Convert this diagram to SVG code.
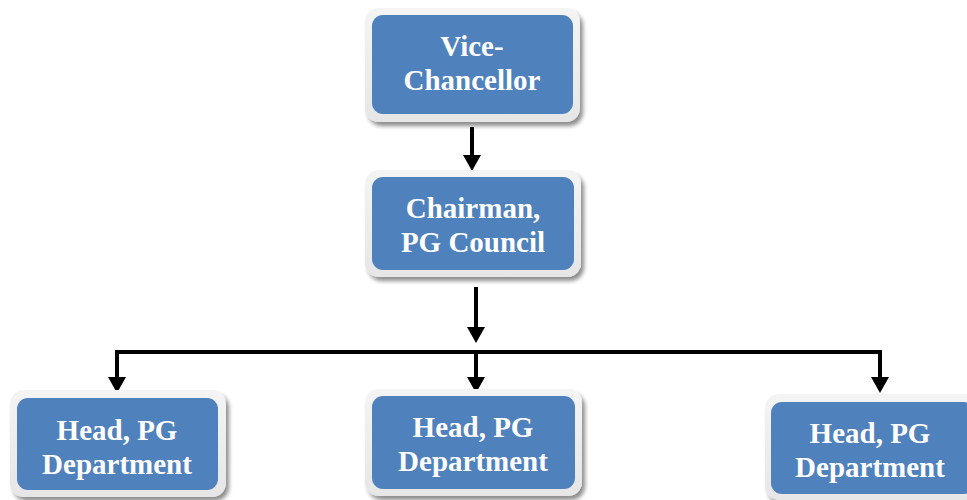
<svg xmlns="http://www.w3.org/2000/svg" width="967" height="500" viewBox="0 0 967 500">
  <defs>
    <linearGradient id="frameFill" x1="0" y1="0" x2="0" y2="1">
      <stop offset="0" stop-color="#f4f4f4"/>
      <stop offset="1" stop-color="#e6e6e6"/>
    </linearGradient>
    <filter id="shadow" x="-10%" y="-10%" width="125%" height="130%">
      <feGaussianBlur in="SourceAlpha" stdDeviation="2"/>
      <feOffset dx="3" dy="4" result="b"/>
      <feComponentTransfer><feFuncA type="linear" slope="0.45"/></feComponentTransfer>
      <feMerge><feMergeNode/><feMergeNode in="SourceGraphic"/></feMerge>
    </filter>
    <marker id="arrow" markerWidth="5" markerHeight="5" refX="2.5" refY="4.2" orient="auto-start-reverse" markerUnits="strokeWidth" viewBox="0 0 5 5">
      <path d="M0,0 L5,0 L2.5,4.2 Z" fill="#000" transform="rotate(-90 2.5 2.5)"/>
    </marker>
    <style>
      .frame { fill: url(#frameFill); filter: url(#shadow); }
      .box { fill: #4f81bd; }
      .label { font-family: "Liberation Serif", "Times New Roman", serif; font-weight: bold; font-size: 29px; fill: #ffffff; text-anchor: middle; }
      .conn { stroke: #000; stroke-width: 4; fill: none; }
      .head { fill: #000; }
    </style>
  </defs>

  <rect width="967" height="500" fill="#ffffff"/>

  <g id="connectors">
    <path class="conn" d="M472,127 V158"/>
    <path class="head" d="M463,155 L481,155 L472,171 Z"/>
    <path class="conn" d="M476,287 V330"/>
    <path class="head" d="M467,327 L485,327 L476,343 Z"/>
    <path class="conn" d="M117,380 V352 H880 V380"/>
    <path class="conn" d="M476,352 V380"/>
    <path class="head" d="M108,377 L126,377 L117,393 Z"/>
    <path class="head" d="M467,377 L485,377 L476,393 Z"/>
    <path class="head" d="M871,377 L889,377 L880,393 Z"/>
  </g>

  <g id="vice-chancellor">
    <rect class="frame" x="365" y="8" width="215" height="114" rx="14"/>
    <rect class="box" x="372" y="15" width="201" height="99" rx="11"/>
    <text class="label" x="472" y="56">Vice-</text>
    <text class="label" x="472" y="90">Chancellor</text>
  </g>

  <g id="chairman">
    <rect class="frame" x="365" y="170" width="216" height="107" rx="14"/>
    <rect class="box" x="372" y="177" width="202" height="93" rx="11"/>
    <text class="label" x="473" y="218">Chairman,</text>
    <text class="label" x="473" y="252">PG Council</text>
  </g>

  <g id="head-left">
    <rect class="frame" x="10" y="390" width="216" height="107" rx="14"/>
    <rect class="box" x="17" y="398" width="201" height="92" rx="11"/>
    <text class="label" x="117" y="440">Head, PG</text>
    <text class="label" x="117" y="474">Department</text>
  </g>

  <g id="head-middle">
    <rect class="frame" x="365" y="389" width="217" height="107" rx="14"/>
    <rect class="box" x="372" y="396" width="203" height="93" rx="11"/>
    <text class="label" x="473" y="437">Head, PG</text>
    <text class="label" x="473" y="471">Department</text>
  </g>

  <g id="head-right">
    <rect class="frame" x="765" y="394" width="214" height="106" rx="14"/>
    <rect class="box" x="771" y="402" width="204" height="92" rx="11"/>
    <text class="label" x="870" y="443">Head, PG</text>
    <text class="label" x="870" y="477">Department</text>
  </g>
</svg>
